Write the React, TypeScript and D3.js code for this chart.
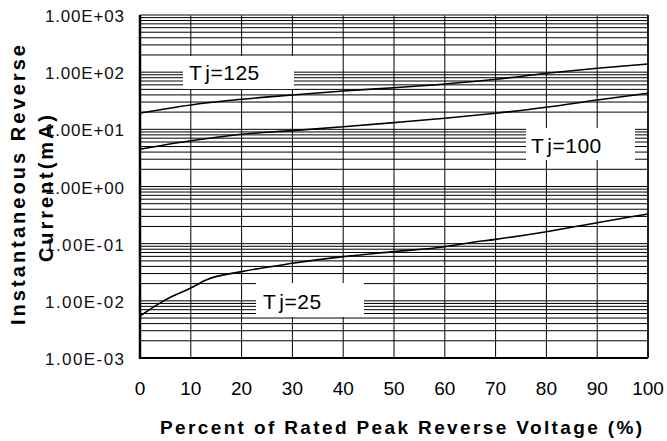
import React from 'react';
import * as d3 from 'd3';

// percent of rated peak reverse voltage
const xPct = [0, 10, 20, 30, 40, 50, 60, 70, 80, 90, 100];
const tj125 = [19.3, 26.7, 33.5, 39.8, 46.9, 53.5, 62, 75, 95.5, 117, 139];
const tj100 = [4.48, 6.3, 8.2, 9.5, 11.1, 13.1, 15.6, 19.1, 24.3, 32.6, 42.7];
const xPct25 = [0, 5, 10, 13, 20, 30, 40, 50, 60, 65, 70, 80, 90, 95, 100];
const tj25 = [0.00543, 0.0104, 0.0168, 0.0232, 0.0324, 0.0453, 0.0593, 0.0725, 0.0885, 0.104, 0.119, 0.162, 0.233, 0.278, 0.33];

const yTicks = [1e-3, 1e-2, 1e-1, 1e0, 1e1, 1e2, 1e3];
const yTickLabels = ['1.00E-03', '1.00E-02', '1.00E-01', '1.00E+00', '1.00E+01', '1.00E+02', '1.00E+03'];
const xTicks = [0, 10, 20, 30, 40, 50, 60, 70, 80, 90, 100];

const labels = [
  { head: 'T', rest: 'j=125', box: [183, 56, 111, 33], tx: 189, ty: 80 },
  { head: 'T', rest: 'j=100', box: [526, 128, 109, 32], tx: 531, ty: 153 },
  { head: 'T', rest: 'j=25', box: [256, 283, 108, 34], tx: 263, ty: 309 },
];

const W = 667;
const H = 441;
const m = { left: 140, right: 648, top: 15, bottom: 358 };
const font = '"Liberation Sans", Arial, sans-serif';

export default function App() {
  const x = d3.scaleLinear().domain([0, 100]).range([m.left, m.right]);
  const y = d3.scaleLog().domain([1e-3, 1e3]).range([m.bottom, m.top]);

  // minor log grid: 2..9 in every decade
  const minor: number[] = [];
  for (let e = -3; e < 3; e++) {
    for (let k = 2; k <= 9; k++) minor.push(k * Math.pow(10, e));
  }

  const line = d3.line<[number, number]>()
    .x(d => x(d[0]))
    .y(d => y(d[1]))
    .curve(d3.curveMonotoneX);

  const series = [
    xPct.map((v, i) => [v, tj125[i]] as [number, number]),
    xPct.map((v, i) => [v, tj100[i]] as [number, number]),
    xPct25.map((v, i) => [v, tj25[i]] as [number, number]),
  ];

  return (
    <div style={{ position: 'absolute', left: 0, top: 0 }}>
      <svg width={W} height={H} style={{ display: 'block', background: '#fff' }} fontFamily={font}>
        <rect x={0} y={0} width={W} height={H} fill="#fff" />
        {/* horizontal grid */}
        {minor.concat(yTicks).map((v, i) => (
          <line key={'h' + i} x1={m.left} x2={m.right} y1={y(v)} y2={y(v)} stroke="#000" strokeWidth={1} />
        ))}
        {/* vertical grid */}
        {xTicks.map(v => (
          <line key={'v' + v} x1={x(v)} x2={x(v)} y1={m.top} y2={m.bottom} stroke="#000" strokeWidth={1} />
        ))}
        {/* frame */}
        <line x1={m.left} x2={m.right} y1={m.top} y2={m.top} stroke="#888" strokeWidth={1} />
        <line x1={m.right} x2={m.right} y1={m.top} y2={m.bottom} stroke="#000" strokeWidth={1.5} />
        <line x1={m.left} x2={m.left} y1={m.top} y2={m.bottom + 1} stroke="#000" strokeWidth={2.5} />
        <line x1={m.left} x2={m.right} y1={m.bottom} y2={m.bottom} stroke="#000" strokeWidth={2} />

        {/* curves */}
        {series.map((s, i) => (
          <path key={'s' + i} d={line(s) || ''} fill="none" stroke="#000" strokeWidth={1.6} />
        ))}

        {/* labels with white boxes */}
        {labels.map(l => (
          <g key={l.rest}>
            <rect x={l.box[0]} y={l.box[1]} width={l.box[2]} height={l.box[3]} fill="#fff" />
            <text x={l.tx} y={l.ty} fontSize={21} letterSpacing={0.5} fill="#000">
              {l.head}<tspan dx={3}>{l.rest}</tspan>
            </text>
          </g>
        ))}

        {/* y tick labels */}
        {yTicks.map((v, i) => (
          <text key={'yt' + i} x={45} y={y(v) + 7} fontSize={17} textLength={79} lengthAdjust="spacing" fill="#111">
            {yTickLabels[i]}
          </text>
        ))}

        {/* x tick labels */}
        {xTicks.map(v => (
          <text key={'xt' + v} x={x(v)} y={395} fontSize={19} textAnchor="middle" fill="#000">{v}</text>
        ))}

        {/* axis titles */}
        <text x={160} y={434} fontSize={19} fontWeight="bold" textLength={482} lengthAdjust="spacing" fill="#000">
          Percent of Rated Peak Reverse Voltage (%)
        </text>
        <text transform="translate(25,325) rotate(-90)" fontSize={20} fontWeight="bold" textLength={280} lengthAdjust="spacing" fill="#000">
          Instantaneous Reverse
        </text>
        <text transform="translate(53,262) rotate(-90)" fontSize={20} fontWeight="bold" textLength={147} lengthAdjust="spacing" fill="#000">
          Current(mA)
        </text>
      </svg>
    </div>
  );
}
